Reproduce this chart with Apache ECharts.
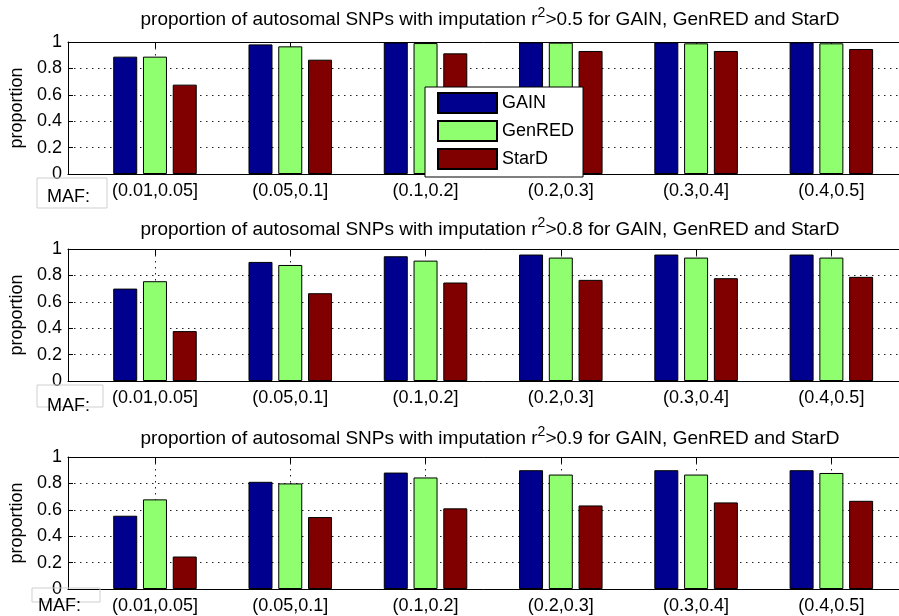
<!DOCTYPE html>
<html>
<head>
<meta charset="utf-8">
<script src="https://cdn.jsdelivr.net/npm/echarts@6/dist/echarts.min.js"></script>
<style>
  html, body { margin: 0; padding: 0; background: #ffffff; }
  #chart { width: 899px; height: 616px; }
</style>
</head>
<body>
<div id="chart"></div>
<script>
// MAF bins on the x axis
const categories = ['(0.01,0.05]', '(0.05,0.1]', '(0.1,0.2]', '(0.2,0.3]', '(0.3,0.4]', '(0.4,0.5]'];
const seriesNames = ['GAIN', 'GenRED', 'StarD'];
const thresholds = ['0.5', '0.8', '0.9'];

// proportion of SNPs with imputation r^2 > 0.5
const gainR05   = [0.889, 0.982, 0.996, 0.997, 0.997, 0.997];
const genredR05 = [0.889, 0.967, 0.992, 0.995, 0.990, 0.990];
const stardR05  = [0.677, 0.866, 0.914, 0.932, 0.932, 0.947];

// proportion of SNPs with imputation r^2 > 0.8
const gainR08   = [0.700, 0.902, 0.945, 0.958, 0.958, 0.958];
const genredR08 = [0.756, 0.879, 0.912, 0.935, 0.935, 0.935];
const stardR08  = [0.378, 0.665, 0.746, 0.766, 0.779, 0.789];

// proportion of SNPs with imputation r^2 > 0.9
const gainR09   = [0.555, 0.812, 0.882, 0.900, 0.900, 0.900];
const genredR09 = [0.679, 0.800, 0.845, 0.867, 0.867, 0.879];
const stardR09  = [0.246, 0.545, 0.611, 0.633, 0.656, 0.668];

const colors = ['#00008f', '#8fff70', '#800000'];
const FONT = '"Liberation Sans", Arial, Helvetica, sans-serif';
const groupPos = categories.map((_, i) => i + 1);

// panel layout: plot box, title line and the "MAF:" tag box
const panels = [
  { values: [gainR05, genredR05, stardR05], top: 42,  height: 132, titleY: 33,  maf: { x: 37, y: 178, w: 70, h: 30, tx: 47, ty: 197 } },
  { values: [gainR08, genredR08, stardR08], top: 249, height: 132, titleY: 243, maf: { x: 37, y: 385, w: 66, h: 22, tx: 47, ty: 406 } },
  { values: [gainR09, genredR09, stardR09], top: 457, height: 132, titleY: 452, maf: { x: 32, y: 588, w: 68, h: 14, tx: 38, ty: 606 } }
];

const X_MIN = 0.357, X_MAX = 6.5;
const dotted = { color: '#222', width: 1, type: [1.5, 4.5] };

const grid = [], xAxis = [], yAxis = [], series = [], graphic = [];

panels.forEach((p, pi) => {
  grid.push({ left: 68, right: 0, top: p.top, height: p.height });

  // bottom axis: MAF bin labels
  xAxis.push({
    gridIndex: pi, type: 'value', position: 'bottom', min: X_MIN, max: X_MAX,
    axisLine: { lineStyle: { color: '#000', width: 1 } },
    axisTick: { show: false },
    axisLabel: {
      customValues: groupPos,
      formatter: v => categories[Math.round(v) - 1] || '',
      color: '#000', fontSize: 18, fontFamily: FONT, margin: 8
    },
    splitLine: { show: false }
  });
  // top axis: box edge, inward ticks and vertical dotted grid
  xAxis.push({
    gridIndex: pi, type: 'value', position: 'top', min: X_MIN, max: X_MAX,
    axisLine: { lineStyle: { color: '#000', width: 1 } },
    axisTick: { show: true, inside: true, length: 6, customValues: groupPos, lineStyle: { color: '#000' } },
    axisLabel: { show: false },
    splitLine: { show: true, lineStyle: dotted }
  });

  yAxis.push({
    gridIndex: pi, type: 'value', min: 0, max: 1, interval: 0.2,
    name: 'proportion', nameLocation: 'middle', nameGap: 40,
    nameTextStyle: { color: '#000', fontSize: 18, fontFamily: FONT },
    axisLine: { show: true, lineStyle: { color: '#000', width: 1 } },
    axisTick: { show: true, inside: true, length: 5, lineStyle: { color: '#000' } },
    axisLabel: { color: '#000', fontSize: 18, fontFamily: FONT, margin: 6 },
    splitLine: { show: true, lineStyle: dotted }
  });

  p.values.forEach((vals, si) => {
    series.push({
      type: 'bar', name: seriesNames[si],
      xAxisIndex: pi * 2, yAxisIndex: pi,
      data: vals.map((v, i) => [groupPos[i], v]),
      barWidth: 24, barGap: '24%',
      itemStyle: { color: colors[si], borderColor: '#000', borderWidth: 1 },
      emphasis: { disabled: true },
      animation: false
    });
  });

  graphic.push({
    type: 'text', x: 490, y: p.titleY,
    style: {
      text: 'proportion of autosomal SNPs with imputation r{sup|2}>' + thresholds[pi] + ' for GAIN, GenRED and StarD',
      font: '19px ' + FONT, fill: '#000', align: 'center', verticalAlign: 'bottom',
      rich: { sup: { fontSize: 14, fontFamily: FONT, padding: [0, 0, 13, 0], verticalAlign: 'bottom' } }
    }
  });
  graphic.push({
    type: 'rect', shape: { x: p.maf.x, y: p.maf.y, width: p.maf.w, height: p.maf.h },
    style: { fill: 'none', stroke: '#cfcfcf', lineWidth: 1 }, z: 10
  });
  graphic.push({
    type: 'text', x: p.maf.tx, y: p.maf.ty,
    style: { text: 'MAF:', font: '18px ' + FONT, fill: '#000', align: 'left', verticalAlign: 'middle' }, z: 10
  });
});

const chart = echarts.init(document.getElementById('chart'), null, { renderer: 'canvas' });
chart.setOption({
  animation: false,
  backgroundColor: '#fff',
  grid, xAxis, yAxis, series, graphic,
  legend: {
    data: seriesNames, orient: 'vertical', left: 425, top: 87,
    backgroundColor: '#fff', borderColor: '#000', borderWidth: 1,
    padding: [5, 9, 7, 12], itemWidth: 59, itemHeight: 20, itemGap: 6,
    icon: 'rect', selectedMode: false,
    textStyle: { color: '#000', fontSize: 18, fontFamily: FONT }
  }
});
</script>
</body>
</html>
